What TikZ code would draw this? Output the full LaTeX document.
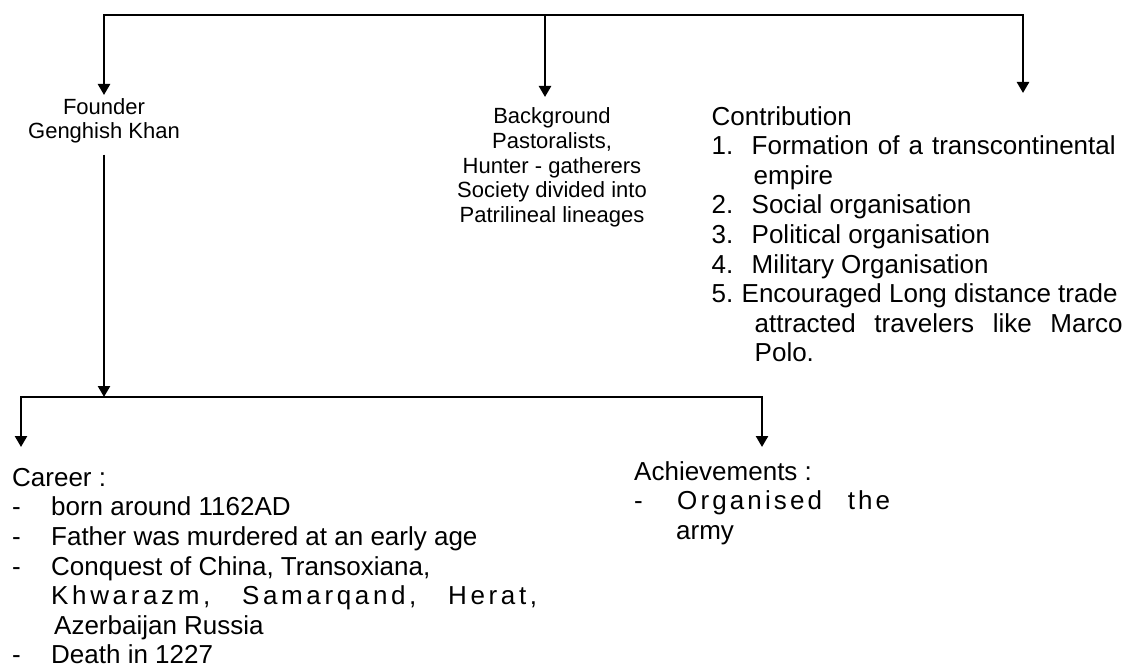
\documentclass[tikz,border=0pt]{standalone}
\usepackage{fontspec}
\setmainfont{Liberation Sans}
\usetikzlibrary{arrows.meta}

\begin{document}
\begin{tikzpicture}[x=1pt, y=-1pt,
    line/.style = {line width = 2.5pt, line cap = rect},
    edge/.style = {line width = 2.5pt, arrows = {-Triangle[width = 12pt, length = 11pt]}},
    small/.style = {font = \fontsize{22}{24.7}\selectfont, align = center, inner sep = 0pt},
    big/.style = {font = \fontsize{26}{29.6}\selectfont, align = left, inner sep = 0pt, anchor = north west}]
    \useasboundingbox (0,0) rectangle (1129,668);
    % top branch
    \coordinate (topL) at (104,15);
    \coordinate (topM) at (545,15);
    \coordinate (topR) at (1023,15);
    \coordinate (bgIn) at (545,97);
    \coordinate (contribIn) at (1023,93);
    \node[small, anchor = north] (founder) at (104,98) {Founder\\Genghish Khan};
    \node[small, anchor = north] (background) at (552,107.5) {Background\\Pastoralists,\\Hunter - gatherers\\Society divided into\\Patrilineal lineages};
    \node[big] (contribution) at (711.5,106) {Contribution\\
        \makebox[40pt][l]{1.}\makebox[364pt][s]{Formation of a transcontinental}\\
        \hspace{42pt}empire\\
        \makebox[40pt][l]{2.}Social organisation\\
        \makebox[40pt][l]{3.}Political organisation\\
        \makebox[40pt][l]{4.}Military Organisation\\
        \makebox[30pt][l]{5.}Encouraged Long distance trade\\
        \hspace{43pt}\makebox[368pt][s]{attracted travelers like Marco}\\
        \hspace{43pt}Polo.};
    \draw[line] (topL) -- (topR);
    \draw[edge, shorten >= 3pt] (topL) -- (founder.north);
    \draw[edge] (topM) -- (bgIn);
    \draw[edge] (topR) -- (contribIn);
    % bottom branch
    \coordinate (split) at (104,397);
    \coordinate (botL) at (21,397);
    \coordinate (botR) at (762,397);
    \coordinate (careerIn) at (21,447);
    \coordinate (achieveIn) at (762,447);
    \node[big] (career) at (12,468) {Career :\\
        \makebox[39pt][l]{-}born around 1162AD\\
        \makebox[39pt][l]{-}Father was murdered at an early age\\
        \makebox[39pt][l]{-}Conquest of China, Transoxiana,\\
        \hspace{39pt}\makebox[486pt][s]{\addfontfeatures{LetterSpace=14}Khwarazm, Samarqand, Herat,}\\
        \hspace{42pt}Azerbaijan Russia\\
        \makebox[39pt][l]{-}Death in 1227};
    \node[big] (achievements) at (634,461) {Achievements :\\
        \makebox[43pt][l]{-}\makebox[213pt][s]{\addfontfeatures{LetterSpace=12}Organised the}\\
        \hspace{42pt}army};
    \draw[edge, shorten <= 11pt] (founder.south) -- (split);
    \draw[line] (botL) -- (botR);
    \draw[edge] (botL) -- (careerIn);
    \draw[edge] (botR) -- (achieveIn);
\end{tikzpicture}
\end{document}
